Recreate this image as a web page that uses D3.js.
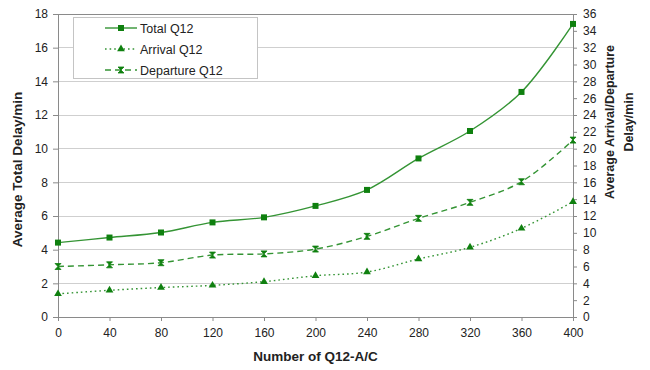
<!DOCTYPE html>
<html>
<head>
<meta charset="utf-8">
<script src="https://cdn.jsdelivr.net/npm/d3@7"></script>
<style>
  html, body { margin: 0; padding: 0; background: #fff; }
  svg { display: block; font-family: "Liberation Sans", Arial, sans-serif; }
</style>
</head>
<body>
<svg id="chart" width="650" height="370"></svg>
<script>
// Number of Q12 aircraft (x axis)
const aircraft = [0, 40, 80, 120, 160, 200, 240, 280, 320, 360, 400];
// Average total delay, minutes (left axis)
const totalDelay = [4.42, 4.72, 5.02, 5.62, 5.92, 6.6, 7.55, 9.42, 11.05, 13.37, 17.41];
// Average arrival / departure delay, minutes (right axis)
const arrivalDelay = [2.75, 3.17, 3.5, 3.76, 4.2, 4.9, 5.34, 6.89, 8.28, 10.53, 13.7];
const departureDelay = [6.0, 6.2, 6.45, 7.36, 7.5, 8.07, 9.58, 11.72, 13.62, 16.07, 21.02];

const xTicks = [0, 40, 80, 120, 160, 200, 240, 280, 320, 360, 400];
const leftTicks = [0, 2, 4, 6, 8, 10, 12, 14, 16, 18];
const rightTicks = [0, 2, 4, 6, 8, 10, 12, 14, 16, 18, 20, 22, 24, 26, 28, 30, 32, 34, 36];

const seriesNames = ["Total Q12", "Arrival Q12", "Departure Q12"];

const svg = d3.select("#chart");
const m = { left: 58, right: 573, top: 14, bottom: 317 };

const x = d3.scaleLinear().domain([0, 400]).range([m.left, m.right]);
const yL = d3.scaleLinear().domain([0, 18]).range([m.bottom, m.top]);
const yR = d3.scaleLinear().domain([0, 36]).range([m.bottom, m.top]);

const green = "#349434";
const markGreen = "#0f800f";
const gridCol = "#cfcfcf";
const axisCol = "#8a8a8a";
const textCol = "#222";

// horizontal gridlines
svg.append("g")
  .selectAll("line")
  .data(leftTicks.filter(d => d > 0))
  .join("line")
  .attr("x1", m.left).attr("x2", m.right)
  .attr("y1", d => yL(d)).attr("y2", d => yL(d))
  .attr("stroke", d => d === 18 ? axisCol : gridCol)
  .attr("stroke-width", 1)
  .attr("shape-rendering", "crispEdges");

// axes
const styleAxis = g => {
  g.select(".domain").attr("stroke", axisCol);
  g.selectAll(".tick line").attr("stroke", axisCol);
  g.selectAll(".tick text").attr("fill", textCol).attr("font-size", 12);
};

svg.append("g")
  .attr("transform", `translate(0,${m.bottom})`)
  .call(d3.axisBottom(x).tickValues(xTicks).tickSize(4).tickPadding(7).tickSizeOuter(0))
  .call(styleAxis);

svg.append("g")
  .attr("transform", `translate(${m.left},0)`)
  .call(d3.axisLeft(yL).tickValues(leftTicks).tickSize(5).tickPadding(5).tickSizeOuter(0))
  .call(styleAxis);

svg.append("g")
  .attr("transform", `translate(${m.right},0)`)
  .call(d3.axisRight(yR).tickValues(rightTicks).tickSize(4).tickPadding(6).tickSizeOuter(0))
  .call(styleAxis);

// axis titles
svg.append("text")
  .attr("transform", `translate(22,${(m.top + m.bottom) / 2 + 4}) rotate(-90)`)
  .attr("text-anchor", "middle")
  .attr("font-size", 13.5).attr("font-weight", "bold").attr("fill", textCol)
  .text("Average Total Delay/min");

const rt = svg.append("text")
  .attr("transform", `translate(614,122) rotate(-90)`)
  .attr("text-anchor", "middle")
  .attr("font-size", 12.5).attr("font-weight", "bold").attr("fill", textCol);
rt.append("tspan").attr("x", 0).attr("dy", 0).text("Average Arrival/Departure");
rt.append("tspan").attr("x", 0).attr("dy", 19).text("Delay/min");

svg.append("text")
  .attr("x", (m.left + m.right) / 2).attr("y", 361)
  .attr("text-anchor", "middle")
  .attr("font-size", 13.5).attr("font-weight", "bold").attr("fill", textCol)
  .text("Number of Q12-A/C");

// markers
const hourglass = "M-3,-3L3,-3L-3,3L3,3Z";
const markers = [
  sel => sel.append("rect").attr("x", -3).attr("y", -3).attr("width", 6).attr("height", 6).attr("fill", markGreen),
  sel => sel.append("path").attr("d", d3.symbol(d3.symbolTriangle, 26)()).attr("fill", markGreen),
  sel => sel.append("path").attr("d", hourglass).attr("fill", markGreen).attr("stroke", markGreen).attr("stroke-width", 0.8)
];
const dashes = [null, "1.6,3", "6,4"];

const series = [
  { vals: totalDelay, y: yL },
  { vals: arrivalDelay, y: yR },
  { vals: departureDelay, y: yR }
];

series.forEach((s, i) => {
  const line = d3.line()
    .x((d, j) => x(aircraft[j]))
    .y(d => s.y(d))
    .curve(d3.curveCatmullRom.alpha(0.5));
  svg.append("path")
    .datum(s.vals)
    .attr("d", line)
    .attr("fill", "none")
    .attr("stroke", green)
    .attr("stroke-width", 1.4)
    .attr("stroke-dasharray", dashes[i]);
  svg.append("g")
    .selectAll("g")
    .data(s.vals)
    .join("g")
    .attr("transform", (d, j) => `translate(${x(aircraft[j])},${s.y(d)})`)
    .each(function () { markers[i](d3.select(this)); });
});

// legend
const lg = svg.append("g");
lg.append("rect")
  .attr("x", 73.5).attr("y", 17.5).attr("width", 184).attr("height", 61)
  .attr("fill", "#fff").attr("stroke", "#c4c4c4");
seriesNames.forEach((name, i) => {
  const yy = 28 + i * 21;
  lg.append("line")
    .attr("x1", 105).attr("x2", 137).attr("y1", yy).attr("y2", yy)
    .attr("stroke", green).attr("stroke-width", 1.4)
    .attr("stroke-dasharray", dashes[i]);
  markers[i](lg.append("g").attr("transform", `translate(121,${yy})`));
  lg.append("text")
    .attr("x", 140).attr("y", yy + 4.5)
    .attr("font-size", 12.5).attr("fill", textCol)
    .text(name);
});
</script>
</body>
</html>
